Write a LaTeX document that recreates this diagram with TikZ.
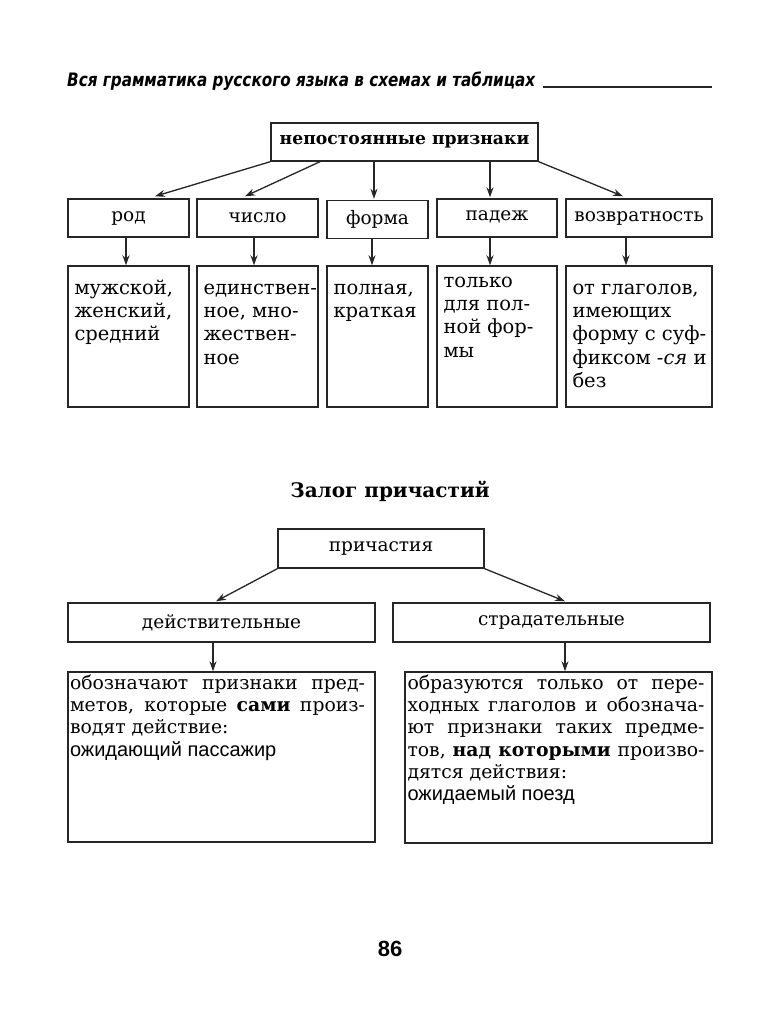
\documentclass[tikz,border=0pt]{standalone}
\usepackage{fontspec}
\setmainfont{DejaVu Serif}
\newfontfamily\hdrfont{DejaVu Sans}
\newfontfamily\sansf{Liberation Sans}
\usetikzlibrary{arrows.meta,calc}
\tikzset{
  box/.style={draw=black!85, line width=1.4pt, inner sep=0pt},
  arr/.style={draw=black!85, line width=1.3pt, -{Stealth[length=10pt,width=7pt]}},
  lbl/.style={font=\fontsize{18.5}{22}\selectfont},
  txt/.style={anchor=base west, inner sep=0pt},
}
\newcommand\bodyfont{\fontsize{19.5}{23.3}\selectfont}
\newcommand\botfont{\fontsize{18.8}{22.3}\selectfont}
\newcommand\sansline[1]{{\sansf\fontsize{20}{22.3}\selectfont #1}}
\newcommand\jl[1]{\makebox[\linewidth][s]{#1}}
\begin{document}
\begin{tikzpicture}[x=1pt,y=-1pt]
\useasboundingbox (0,0) rectangle (780,1024);
% header
\node[anchor=base west, inner sep=0pt] (hdr) at (67,87)
  {\resizebox{468pt}{\height}{\hdrfont\bfseries\itshape\fontsize{18.5}{20}\selectfont Вся грамматика русского языка в схемах и таблицах}};
\coordinate (ulend) at (712,87);
\draw[line width=1.3pt, black!85] ([xshift=8pt]hdr.base east) -- (ulend);

% top block
\node[box, minimum width=267pt, minimum height=38pt, font=\bfseries\fontsize{17.2}{22}\selectfont] (top) at (404.5,142) {непостоянные признаки};

\node[box,lbl,minimum width=121pt,minimum height=38pt] (rod) at (128.5,218) {род};
\node[box,lbl,minimum width=121pt,minimum height=38pt] (chislo) at (257.5,218) {число};
\node[box,lbl,minimum width=101pt,minimum height=38pt] (forma) at (377.5,219.5) {форма};
\node[box,lbl,minimum width=120pt,minimum height=38pt] (padezh) at (497,218) {\raisebox{5pt}{падеж}};
\node[box,lbl,minimum width=146pt,minimum height=38pt] (vozvr) at (639,218) {возвратность};

\node[box, minimum width=121pt, minimum height=141pt] (rodD) at (128.5,336.5) {};
\node[box, minimum width=121pt, minimum height=141pt] (chisloD) at (257.5,336.5) {};
\node[box, minimum width=101pt, minimum height=141pt] (formaD) at (377.5,336.5) {};
\node[box, minimum width=120pt, minimum height=141pt] (padezhD) at (497,336.5) {};
\node[box, minimum width=146pt, minimum height=141pt] (vozvrD) at (639,336.5) {};

\node[txt] (rodT) at ([xshift=7pt,yshift=-29pt]rodD.north west)
  {\parbox[t]{115pt}{\bodyfont мужской,\\женский,\\средний}};
\node[txt] (chisloT) at ([xshift=7pt,yshift=-29pt]chisloD.north west)
  {\parbox[t]{115pt}{\bodyfont единствен-\\ное, мно-\\жествен-\\ное}};
\node[txt] (formaT) at ([xshift=7pt,yshift=-29pt]formaD.north west)
  {\parbox[t]{95pt}{\bodyfont полная,\\краткая}};
\node[txt] (padezhT) at ([xshift=7pt,yshift=-22pt]padezhD.north west)
  {\parbox[t]{115pt}{\bodyfont только\\для пол-\\ной фор-\\мы}};
\node[txt] (vozvrT) at ([xshift=7pt,yshift=-29pt]vozvrD.north west)
  {\parbox[t]{140pt}{\bodyfont от глаголов,\\имеющих\\форму с суф-\\фиксом \textit{-ся} и\\без}};

% arrows top
\draw[arr] (top.south west) -- ([xshift=26.5pt,yshift=2pt]rod.north);
\draw[arr] ([xshift=-84.5pt]top.south) -- ([xshift=-12.5pt,yshift=2pt]chislo.north);
\coordinate (fa) at ([xshift=-3.5pt,yshift=1pt]forma.north);
\draw[arr] (top.south -| fa) -- (fa);
\coordinate (pa) at ([xshift=-7pt,yshift=1pt]padezh.north);
\draw[arr] (top.south -| pa) -- (pa);
\draw[arr] (top.south east) -- ([xshift=-16pt,yshift=2pt]vozvr.north);

\foreach \a/\d/\s in {rod/rodD/-2.5, chislo/chisloD/-3.5, forma/formaD/-5.5, padezh/padezhD/-7, vozvr/vozvrD/-13}{
  \coordinate (c\a) at ([xshift=\s pt]\d.north);
  \draw[arr] (\a.south -| c\a) -- (c\a);
}

% title
\node[anchor=base, inner sep=0pt, font=\bfseries\fontsize{20}{24}\selectfont] (title) at (390,497) {Залог причастий};

\node[box,lbl,minimum width=206pt,minimum height=39pt] (prich) at (381,548.5) {причастия};
\node[box,lbl,minimum width=307pt,minimum height=39pt] (deistv) at (221.5,622.5) {действительные};
\node[box,lbl,minimum width=317pt,minimum height=39pt] (strad) at (551.5,622.5) {страдательные};

\node[box, minimum width=307pt, minimum height=170pt] (deistvD) at (221.5,757) {};
\node[box, minimum width=307pt, minimum height=171pt] (stradD) at (558.5,757.5) {};

\node[txt] (deistvT) at ([xshift=2.5pt,yshift=-18pt]deistvD.north west)
  {\parbox[t]{295pt}{\botfont\jl{обозначают признаки пред-}\\\jl{метов, которые \textbf{сами} произ-}\\водят действие:\\\sansline{ожидающий пассажир}}};
\node[txt] (stradT) at ([xshift=3pt,yshift=-18pt]stradD.north west)
  {\parbox[t]{297pt}{\botfont\jl{образуются только от пере-}\\\jl{ходных глаголов и обознача-}\\\jl{ют признаки таких предме-}\\\jl{тов, \textbf{над которыми} произво-}\\дятся действия:\\\sansline{ожидаемый поезд}}};

\draw[arr] (prich.south west) -- ([xshift=-5.5pt,yshift=1pt]deistv.north);
\draw[arr] (prich.south east) -- ([xshift=13.5pt,yshift=1pt]strad.north);
\coordinate (dd) at ([xshift=-8.5pt]deistvD.north);
\draw[arr] (deistv.south -| dd) -- (dd);
\coordinate (sd) at ([xshift=6.5pt]stradD.north);
\draw[arr] (strad.south -| sd) -- (sd);

% page number
\node[anchor=base, inner sep=0pt, font=\sansf\bfseries\fontsize{22}{24}\selectfont] (pg) at (390,956) {86};
\end{tikzpicture}
\end{document}
